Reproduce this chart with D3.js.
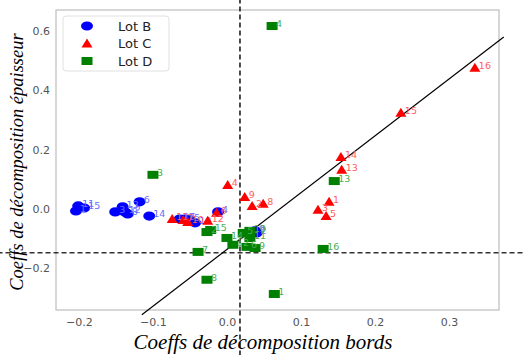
<!DOCTYPE html>
<html>
<head>
<meta charset="utf-8">
<script src="https://cdn.jsdelivr.net/npm/d3@7"></script>
<style>
  body { margin: 0; background: #fff; }
  svg { display: block; }
</style>
</head>
<body>
<svg id="chart" width="525" height="355"></svg>
<script>
// sample ids, same for every lot
const ids = d3.range(1, 17);

// Lot B (coeff bords, coeff epaisseur)
const lotBx = [-0.204, 0.040, -0.151, -0.012, -0.050, -0.118, -0.057, -0.134, 0.038, -0.043, -0.201, -0.138, -0.141, -0.105, -0.193, -0.064];
const lotBy = [-0.007, -0.081, -0.010, -0.010, -0.037, 0.024, -0.034, -0.017, -0.074, -0.047, 0.010, -0.010, 0.007, -0.024, 0.003, -0.034];

// Lot C
const lotCx = [0.138, 0.034, 0.123, 0.001, 0.134, -0.014, -0.059, 0.049, 0.024, -0.053, -0.074, -0.026, 0.155, 0.154, 0.235, 0.335];
const lotCy = [0.024, 0.010, -0.003, 0.081, -0.024, -0.013, -0.037, 0.017, 0.040, -0.044, -0.034, -0.040, 0.132, 0.175, 0.324, 0.476];

// Lot D
const lotDx = [0.064, -0.027, -0.100, 0.061, 0.022, 0.027, -0.039, -0.027, 0.038, 0.031, 0.031, 0.008, 0.145, 0.000, -0.022, 0.130];
const lotDy = [-0.287, -0.078, 0.115, 0.617, -0.081, -0.128, -0.145, -0.239, -0.132, -0.074, -0.098, -0.121, 0.094, -0.098, -0.071, -0.135];

const xTicks = [-0.2, -0.1, 0.0, 0.1, 0.2, 0.3];
const yTicks = [-0.2, 0.0, 0.2, 0.4, 0.6];

// reference lines (not clipped to the axes)
const hLineY = -0.148, hLineX = [-0.31, 0.41];
const vLineX = 0.0176, vLineY = [0.71, -0.50];
const fitX = [-0.115, 0.374], fitY = [-0.357, 0.58];

const margin = { left: 56, top: 10, right: 26, bottom: 45 };
const width = 525, height = 355;

const svg = d3.select("#chart");

const x = d3.scaleLinear()
  .domain([-0.231, 0.3676])
  .range([margin.left, width - margin.right]);
const y = d3.scaleLinear()
  .domain([-0.341, 0.671])
  .range([height - margin.bottom, margin.top]);

// frame
svg.append("rect")
  .attr("x", x.range()[0]).attr("y", y.range()[1])
  .attr("width", x.range()[1] - x.range()[0])
  .attr("height", y.range()[0] - y.range()[1])
  .attr("fill", "none").attr("stroke", "#bdbdbd").attr("stroke-width", 1.2);

// axes, no tick marks
const xAxis = svg.append("g")
  .attr("transform", "translate(0," + y.range()[0] + ")")
  .call(d3.axisBottom(x).tickValues(xTicks).tickSize(0).tickPadding(8).tickFormat(d3.format(".1f")));
const yAxis = svg.append("g")
  .attr("transform", "translate(" + x.range()[0] + ",0)")
  .call(d3.axisLeft(y).tickValues(yTicks).tickSize(0).tickPadding(6).tickFormat(d3.format(".1f")));
[xAxis, yAxis].forEach(a => {
  a.select(".domain").remove();
  a.selectAll("text")
    .attr("fill", "#555")
    .style("font-family", "DejaVu Sans")
    .style("font-size", "11px");
});

// dashed reference lines
svg.append("line")
  .attr("x1", x(hLineX[0])).attr("x2", x(hLineX[1]))
  .attr("y1", y(hLineY)).attr("y2", y(hLineY))
  .attr("stroke", "#333").attr("stroke-width", 1.4).attr("stroke-dasharray", "5,3");
svg.append("line")
  .attr("x1", x(vLineX)).attr("x2", x(vLineX))
  .attr("y1", y(vLineY[0])).attr("y2", y(vLineY[1]))
  .attr("stroke", "#000").attr("stroke-width", 1.4).attr("stroke-dasharray", "5,3");

// fitted line
svg.append("line")
  .attr("x1", x(fitX[0])).attr("y1", y(fitY[0]))
  .attr("x2", x(fitX[1])).attr("y2", y(fitY[1]))
  .attr("stroke", "#000").attr("stroke-width", 1.2);

const lots = [
  { name: "Lot B", xs: lotBx, ys: lotBy, color: "#0000ff", label: "#6b6bff", shape: "circle" },
  { name: "Lot C", xs: lotCx, ys: lotCy, color: "#ff0000", label: "#ff5c5c", shape: "triangle" },
  { name: "Lot D", xs: lotDx, ys: lotDy, color: "#008000", label: "#4caf50", shape: "square" }
];

function drawMarker(g, shape, color) {
  if (shape === "circle") {
    g.append("ellipse").attr("rx", 6).attr("ry", 4.6).attr("fill", color);
  } else if (shape === "triangle") {
    g.append("path").attr("d", "M0,-5L5.5,4L-5.5,4Z").attr("fill", color);
  } else {
    g.append("rect").attr("x", -5.5).attr("y", -4).attr("width", 11).attr("height", 8).attr("fill", color);
  }
}

lots.forEach(lot => {
  const pts = ids.map((id, i) => ({ id: id, x: lot.xs[i], y: lot.ys[i] }));
  pts.forEach(p => {
    const g = svg.append("g").attr("transform", "translate(" + x(p.x) + "," + y(p.y) + ")");
    drawMarker(g, lot.shape, lot.color);
  });
  svg.append("g").selectAll("text")
    .data(pts)
    .enter()
    .append("text")
    .attr("x", d => x(d.x) + 4)
    .attr("y", d => y(d.y) + 1)
    .text(d => d.id)
    .attr("fill", lot.label)
    .style("font-family", "DejaVu Sans")
    .style("font-size", "9.5px");
});

// legend
const legend = svg.append("g");
legend.append("rect")
  .attr("x", 63).attr("y", 16).attr("width", 106).attr("height", 55).attr("rx", 3)
  .attr("fill", "#fff").attr("fill-opacity", 0.85).attr("stroke", "#e0e0e0");
lots.forEach((lot, i) => {
  const g = legend.append("g").attr("transform", "translate(87," + (26 + i * 17.5) + ")");
  drawMarker(g, lot.shape, lot.color);
  legend.append("text")
    .attr("x", 118).attr("y", 26 + i * 17.5)
    .attr("dy", "0.35em")
    .text(lot.name)
    .attr("fill", "#222")
    .style("font-family", "DejaVu Sans")
    .style("font-size", "13px");
});

// axis titles
svg.append("text")
  .attr("x", 263).attr("y", 349)
  .attr("text-anchor", "middle")
  .text("Coeffs de décomposition bords")
  .style("font-family", "Liberation Serif")
  .style("font-style", "italic")
  .style("font-size", "21px");
svg.append("text")
  .attr("transform", "translate(23,162) rotate(-90)")
  .attr("text-anchor", "middle")
  .text("Coeffs de décomposition épaisseur")
  .style("font-family", "Liberation Serif")
  .style("font-style", "italic")
  .style("font-size", "18.5px");
</script>
</body>
</html>
